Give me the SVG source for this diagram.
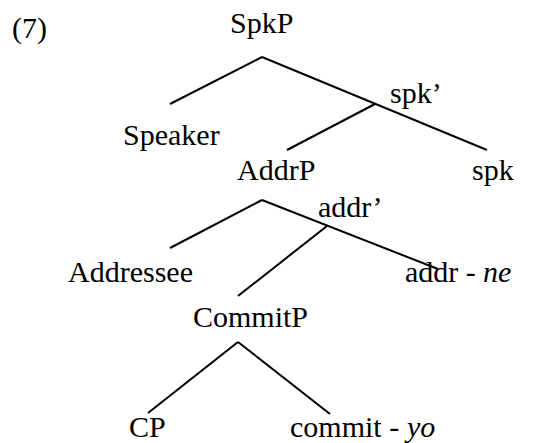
<svg xmlns="http://www.w3.org/2000/svg" width="550" height="443" viewBox="0 0 550 443" font-family="'Liberation Serif', 'Times New Roman', serif" font-size="30">
<style>
.edge{stroke:#000;stroke-width:2}
.lbl{font-family:'Liberation Serif','Times New Roman',serif;font-size:30px;fill:#000}
.it{font-style:italic}
</style>
<rect width="550" height="443" fill="#fff"/>
<text class="lbl" x="12" y="38">(7)</text>
<g id="connectors">
<line class="edge" x1="262" y1="57" x2="170" y2="104"/>
<line class="edge" x1="262" y1="57" x2="487" y2="150"/>
<line class="edge" x1="375" y1="104" x2="287" y2="150"/>
<line class="edge" x1="262" y1="200" x2="170" y2="248"/>
<line class="edge" x1="262" y1="200" x2="438" y2="269"/>
<line class="edge" x1="327" y1="226" x2="238" y2="296"/>
<line class="edge" x1="238" y1="342" x2="148" y2="413"/>
<line class="edge" x1="238" y1="342" x2="330" y2="414"/>
</g>
<g id="n-SpkP"><text class="lbl" x="230" y="33">SpkP</text></g>
<g id="n-Speaker"><text class="lbl" x="123" y="145">Speaker</text></g>
<g id="n-spkbar"><text class="lbl" x="390" y="103">spk&#8217;</text></g>
<g id="n-AddrP"><text class="lbl" x="237" y="180">AddrP</text></g>
<g id="n-spk"><text class="lbl" x="472" y="180">spk</text></g>
<g id="n-addrbar"><text class="lbl" x="318" y="217">addr&#8217;</text></g>
<g id="n-Addressee"><text class="lbl" x="68" y="282">Addressee</text></g>
<g id="n-addr"><text class="lbl" x="405" y="282">addr -</text><text class="lbl it" x="483" y="282">ne</text></g>
<g id="n-CommitP"><text class="lbl" x="193" y="327">CommitP</text></g>
<g id="n-CP"><text class="lbl" x="129" y="437">CP</text></g>
<g id="n-commit"><text class="lbl" x="290" y="437">commit -</text><text class="lbl it" x="407" y="437">yo</text></g>
</svg>
